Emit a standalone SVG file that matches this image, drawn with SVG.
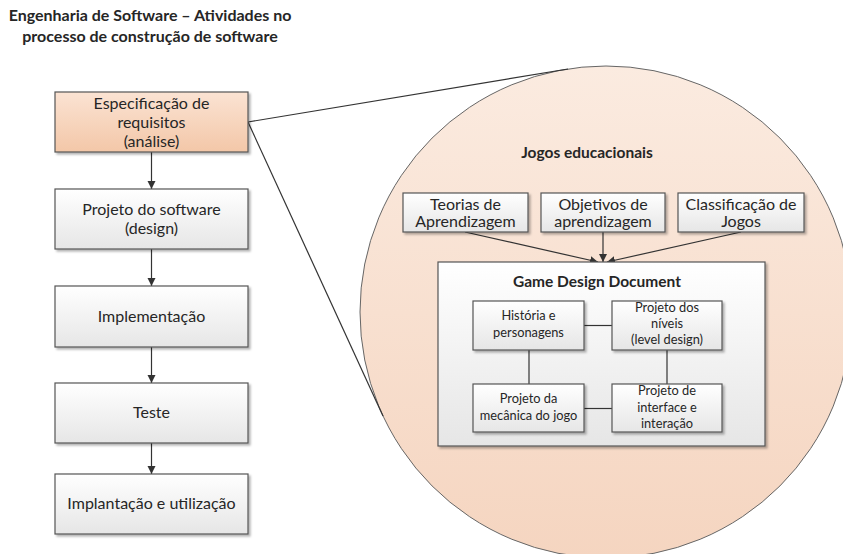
<svg xmlns="http://www.w3.org/2000/svg" width="843" height="554" viewBox="0 0 843 554">
<style>
text{font-family:Lato,"Liberation Sans",sans-serif;fill:#262626;text-anchor:middle}
.t15{font-size:16px}
.t13{font-size:12.8px}
.b{font-weight:bold;font-size:15.5px}
.box{fill:url(#gGray);stroke:#555;stroke-width:1.2;filter:url(#sh)}
.peach{fill:url(#gPeach);stroke:#555;stroke-width:1.2;filter:url(#sh)}
.ln{stroke:#333;stroke-width:1.2;fill:none}
.arr{stroke:#333;stroke-width:1.2;fill:none;marker-end:url(#ah)}
</style>
<defs>
<linearGradient id="gGray" x1="0" y1="0" x2="0" y2="1"><stop offset="0" stop-color="#ffffff"/><stop offset="1" stop-color="#e6e6e6"/></linearGradient>
<linearGradient id="gPeach" x1="0" y1="0" x2="0" y2="1"><stop offset="0" stop-color="#fbe3d3"/><stop offset="1" stop-color="#f3c7a8"/></linearGradient>
<linearGradient id="gCirc" x1="0" y1="0" x2="0" y2="1"><stop offset="0" stop-color="#fbebe0"/><stop offset="1" stop-color="#f5d5c0"/></linearGradient>
<filter id="sh" x="-10%" y="-10%" width="120%" height="130%"><feDropShadow dx="2" dy="2" stdDeviation="1" flood-color="#000" flood-opacity="0.3"/></filter>
<marker id="ah" viewBox="0 0 10 10" refX="10" refY="5" markerWidth="8" markerHeight="9" markerUnits="userSpaceOnUse" orient="auto"><path d="M0,0 L10,5 L0,10 z" fill="#333"/></marker>
</defs>

<g id="title">
<text class="b" x="150" y="21" style="font-size:16px">Engenharia de Software – Atividades no</text>
<text class="b" x="150" y="42" style="font-size:16px">processo de construção de software</text>
</g>

<g id="zoom-circle">
<circle cx="606" cy="312" r="246" fill="url(#gCirc)" stroke="#666" stroke-width="1"/>
</g>

<g id="connectors">
<line class="ln" x1="248" y1="122" x2="568" y2="69" stroke-width="1"/>
<line class="ln" x1="248" y1="122" x2="383" y2="416" stroke-width="1"/>
<line class="arr" x1="151.5" y1="152" x2="151.5" y2="189"/>
<line class="arr" x1="151.5" y1="249" x2="151.5" y2="286"/>
<line class="arr" x1="151.5" y1="347" x2="151.5" y2="383"/>
<line class="arr" x1="151.5" y1="443" x2="151.5" y2="474"/>
<line class="arr" x1="465" y1="232" x2="598" y2="262"/>
<line class="arr" x1="603" y1="232" x2="603" y2="262"/>
<line class="arr" x1="741" y1="232" x2="607" y2="262"/>
</g>

<g id="espec">
<rect class="peach" x="55" y="92" width="193" height="60"/>
<text class="t15" x="151.5" y="109">Especificação de</text>
<text class="t15" x="151.5" y="128">requisitos</text>
<text class="t15" x="151.5" y="147">(análise)</text>
</g>
<g id="projeto">
<rect class="box" x="55" y="189" width="193" height="60"/>
<text class="t15" x="151.5" y="214.5">Projeto do software</text>
<text class="t15" x="151.5" y="233.5">(design)</text>
</g>
<g id="implementacao">
<rect class="box" x="55" y="286" width="193" height="61"/>
<text class="t15" x="151.5" y="321.5">Implementação</text>
</g>
<g id="teste">
<rect class="box" x="55" y="383" width="193" height="60"/>
<text class="t15" x="151.5" y="418">Teste</text>
</g>
<g id="implantacao">
<rect class="box" x="55" y="474" width="193" height="60"/>
<text class="t15" x="151.5" y="509">Implantação e utilização</text>
</g>

<g id="jogos-label">
<text class="b" x="587" y="158">Jogos educacionais</text>
</g>
<g id="teorias">
<rect class="box" x="403" y="193" width="125" height="39"/>
<text class="t15" x="465.5" y="209.5">Teorias de</text>
<text class="t15" x="465.5" y="227">Aprendizagem</text>
</g>
<g id="objetivos">
<rect class="box" x="541" y="193" width="124" height="39"/>
<text class="t15" x="603" y="209.5">Objetivos de</text>
<text class="t15" x="603" y="227">aprendizagem</text>
</g>
<g id="classificacao">
<rect class="box" x="678" y="193" width="126" height="39"/>
<text class="t15" x="741" y="209.5">Classificação de</text>
<text class="t15" x="741" y="227">Jogos</text>
</g>

<g id="gdd">
<rect class="box" x="438" y="262" width="327" height="184"/>
<text class="b" x="597" y="287">Game Design Document</text>
</g>
<g id="gdd-links">
<line class="ln" x1="584" y1="325.5" x2="612" y2="325.5"/>
<line class="ln" x1="529" y1="350" x2="529" y2="384"/>
<line class="ln" x1="667" y1="350" x2="667" y2="384"/>
<line class="ln" x1="584" y1="408.5" x2="612" y2="408.5"/>
</g>
<g id="historia">
<rect class="box" x="473" y="301" width="111" height="49"/>
<text class="t13" x="528.5" y="320">História e</text>
<text class="t13" x="528.5" y="336.5">personagens</text>
</g>
<g id="niveis">
<rect class="box" x="612" y="301" width="110" height="49"/>
<text class="t13" x="667" y="312">Projeto dos</text>
<text class="t13" x="667" y="328">níveis</text>
<text class="t13" x="667" y="344">(level design)</text>
</g>
<g id="mecanica">
<rect class="box" x="473" y="384" width="111" height="48"/>
<text class="t13" x="528.5" y="403">Projeto da</text>
<text class="t13" x="528.5" y="420">mecânica do jogo</text>
</g>
<g id="interface">
<rect class="box" x="612" y="384" width="110" height="48"/>
<text class="t13" x="667" y="395">Projeto de</text>
<text class="t13" x="667" y="411.5">interface e</text>
<text class="t13" x="667" y="428">interação</text>
</g>
</svg>
